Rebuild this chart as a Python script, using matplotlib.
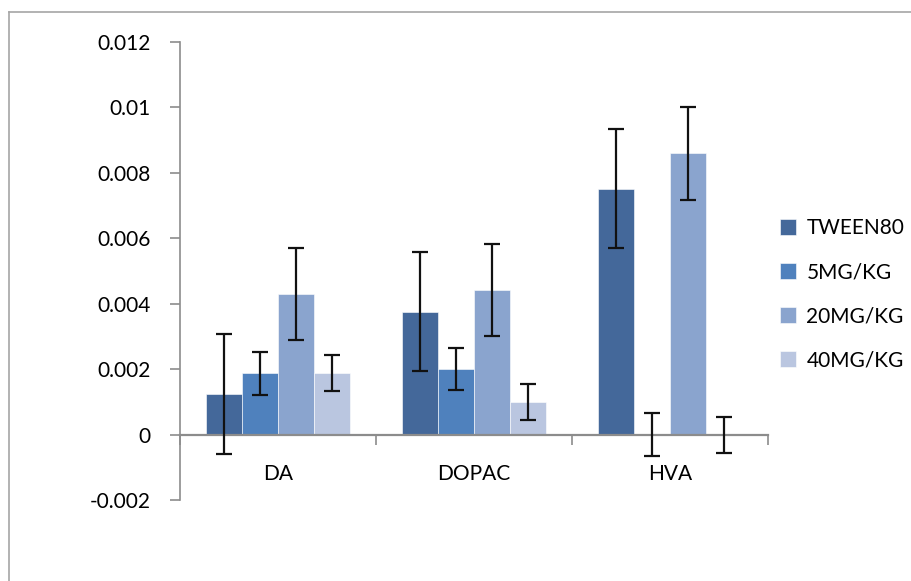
import matplotlib
matplotlib.use("Agg")
import matplotlib.pyplot as plt
import numpy as np
from matplotlib.lines import Line2D

categories = ["DA", "DOPAC", "HVA"]
series = ["TWEEN80", "5MG/KG", "20MG/KG", "40MG/KG"]
tween80 = [0.00124, 0.00376, 0.00752]
mg5 = [0.00187, 0.00200, 0.0]
mg20 = [0.00430, 0.00443, 0.00860]
mg40 = [0.00187, 0.00100, 0.0]
err_tween80 = [0.00184, 0.00182, 0.00183]
err_mg5 = [0.00066, 0.00065, 0.00065]
err_mg20 = [0.00141, 0.00141, 0.00142]
err_mg40 = [0.00055, 0.00055, 0.00055]
yticks = [-0.002, 0, 0.002, 0.004, 0.006, 0.008, 0.01, 0.012]
ytick_labels = ["-0.002", "0", "0.002", "0.004", "0.006", "0.008", "0.01", "0.012"]

colors = ["#44689A", "#4F81BD", "#8AA4CE", "#BAC6E0"]
values = [tween80, mg5, mg20, mg40]
errors = [err_tween80, err_mg5, err_mg20, err_mg40]

plt.rcParams['font.family'] = ['Lato', 'DejaVu Sans']

fig = plt.figure(figsize=(9.11, 5.81), dpi=100)
# outer chart frame (top and left edges visible)
fx, fy = 9/911, 1 - 12/581
fig.add_artist(Line2D([fx, 1.0], [fy, fy], transform=fig.transFigure, color="#A6A6A6", linewidth=1.2))
fig.add_artist(Line2D([fx, fx], [0.0, fy], transform=fig.transFigure, color="#A6A6A6", linewidth=1.2))

ax = fig.add_axes([180/911, 1 - 500/581, (768 - 180)/911, (500 - 42)/581])
x = np.arange(len(categories))
bw = 0.735 / 4
for i, (vals, errs, c, name) in enumerate(zip(values, errors, colors, series)):
    pos = x - 0.735/2 + bw*(i + 0.5)
    ax.bar(pos, vals, width=bw, color=c, edgecolor="#FFFFFF", linewidth=0.4, label=name, zorder=2)
    ax.errorbar(pos, vals, yerr=errs, fmt="none", ecolor="#111111", elinewidth=1.6,
                capsize=6, capthick=1.6, zorder=3)

ax.set_xlim(-0.5, len(categories) - 0.5)
ax.set_ylim(-0.002, 0.012)
ax.set_yticks(yticks)
ax.set_yticklabels(ytick_labels)
ax.set_xticks(np.arange(len(categories) + 1) - 0.5, minor=True)
ax.set_xticks(x)
ax.set_xticklabels(categories)
ax.tick_params(axis="both", which="both", labelsize=15)
ax.tick_params(axis="x", which="major", length=0, pad=21)
ax.tick_params(axis="x", which="minor", length=7, width=1.2, color="#8C8C8C", direction="out")
ax.tick_params(axis="y", length=7, width=1.2, color="#8C8C8C", direction="out", pad=14)

for s in ["top", "right"]:
    ax.spines[s].set_visible(False)
ax.spines["left"].set_color("#8C8C8C")
ax.spines["left"].set_linewidth(1.2)
ax.spines["bottom"].set_position(("data", 0))
ax.spines["bottom"].set_color("#8C8C8C")
ax.spines["bottom"].set_linewidth(1.6)
ax.patch.set_alpha(0)

handles, labels = ax.get_legend_handles_labels()
leg = fig.legend(handles, labels, loc="upper left", bbox_to_anchor=(772/911, 1 - 210/581),
                 frameon=False, fontsize=15, handlelength=0.75, handleheight=0.75,
                 handletextpad=0.5, labelspacing=1.15, borderaxespad=0)

fig.savefig("out.png", dpi=100)
